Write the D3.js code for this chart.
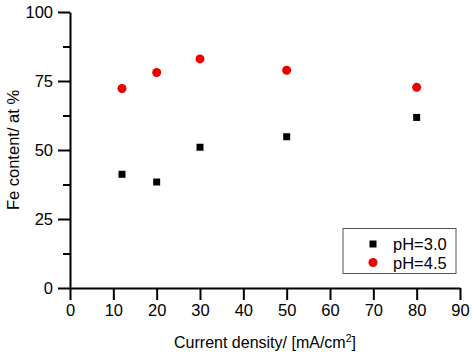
<html>
<head>
    <style>
    body{ margin:0; background:#fff; }
    text{ font-family: "Liberation Sans", Arial, sans-serif; fill:#000; }
    .axis path, .axis line{ stroke:#000; stroke-width:2; }
    </style>
    <script src="https://cdn.jsdelivr.net/npm/d3@7"></script>
</head>
<body>
    <svg id="container" width="474" height="358"></svg>
</body>
<script>
    // values
    let currentDensity = [12, 20, 30, 50, 80]
    let ph30 = [41.2, 38.4, 51.0, 54.8, 61.8]
    let ph45 = [72.3, 78.1, 83.0, 78.9, 72.7]
    let xTicks = [0, 10, 20, 30, 40, 50, 60, 70, 80, 90]
    let yTicks = [0, 25, 50, 75, 100]
    let yMinor = [12.5, 37.5, 62.5, 87.5]

    let svg = d3.select("#container")

    let xScale = d3.scaleLinear().domain([0, 90]).range([70, 460])
    let yScale = d3.scaleLinear().domain([0, 100]).range([288, 12])

    // minor ticks on y
    svg.append("g")
        .attr("class", "axis")
        .attr("transform", "translate(70,0)")
        .call(d3.axisLeft(yScale).tickValues(yMinor).tickSize(7).tickFormat(""))
        .call(g => g.select(".domain").remove())

    let yAxis = svg.append("g")
        .attr("class", "axis")
        .attr("transform", "translate(70,0)")
        .call(d3.axisLeft(yScale).tickValues(yTicks).tickSize(12).tickSizeOuter(0).tickPadding(5))
    yAxis.selectAll("text").attr("font-size", 16.5)

    let xAxis = svg.append("g")
        .attr("class", "axis")
        .attr("transform", "translate(0,288)")
        .call(d3.axisBottom(xScale).tickValues(xTicks).tickSize(12).tickSizeOuter(0).tickPadding(4))
    xAxis.selectAll("text").attr("font-size", 16.5)

    // axis titles
    let xt = svg.append("text")
        .attr("x", 265).attr("y", 348)
        .attr("text-anchor", "middle")
        .attr("font-size", 16)
    xt.append("tspan").text("Current density/ [mA/cm")
    xt.append("tspan").text("2").attr("font-size", 10.5).attr("dy", -6)
    xt.append("tspan").text("]").attr("dy", 6)

    svg.append("text")
        .attr("transform", "translate(19,150) rotate(-90)")
        .attr("text-anchor", "middle")
        .attr("font-size", 16.5)
        .text("Fe content/ at %")

    // points
    svg.append("g").selectAll("rect")
        .data(currentDensity)
        .enter().append("rect")
        .attr("x", (d, i) => xScale(d) - 3.5)
        .attr("y", (d, i) => yScale(ph30[i]) - 3.5)
        .attr("width", 7).attr("height", 7)
        .attr("fill", "#000")

    svg.append("g").selectAll("circle")
        .data(currentDensity)
        .enter().append("circle")
        .attr("cx", d => xScale(d))
        .attr("cy", (d, i) => yScale(ph45[i]))
        .attr("r", 4.5)
        .attr("fill", "#ee0000")

    // legend
    let legend = svg.append("g")
    legend.append("rect")
        .attr("x", 343).attr("y", 228.5)
        .attr("width", 113).attr("height", 45)
        .attr("fill", "#fff").attr("stroke", "#555").attr("stroke-width", 1)
    legend.append("rect")
        .attr("x", 369.5).attr("y", 240.5).attr("width", 7).attr("height", 7).attr("fill", "#000")
    legend.append("circle")
        .attr("cx", 373).attr("cy", 262.5).attr("r", 4.5).attr("fill", "#ee0000")
    legend.append("text").attr("x", 393).attr("y", 250).attr("font-size", 16.5).text("pH=3.0")
    legend.append("text").attr("x", 393).attr("y", 268.5).attr("font-size", 16.5).text("pH=4.5")
</script>
</html>
